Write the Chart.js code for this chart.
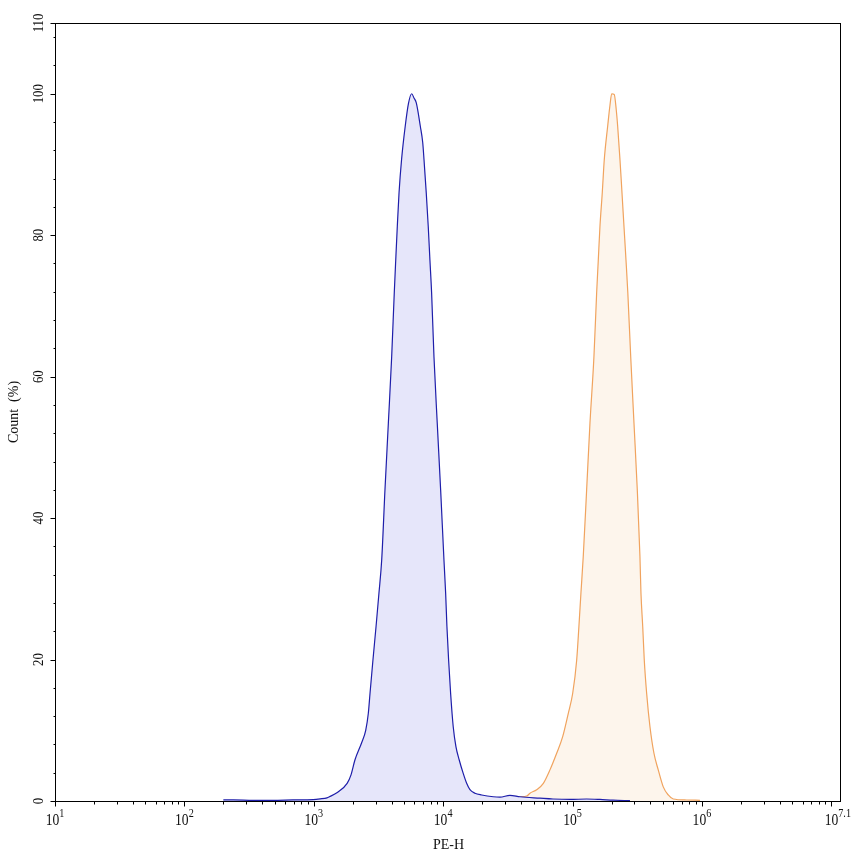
<!DOCTYPE html>
<html>
<head>
<meta charset="utf-8">
<script src="https://cdn.jsdelivr.net/npm/chart.js@4.4.0/dist/chart.umd.min.js"></script>
<style>
  html, body { margin: 0; padding: 0; background: #fff; }
  #wrap { width: 853px; height: 856px; }
</style>
</head>
<body>
<div id="wrap"><canvas id="histo" width="853" height="856"></canvas></div>
<script>
// PE-H intensity (x) and count % (y)
var blueX = [200, 240, 340, 480, 690, 990, 1120, 1265, 1320, 1520, 1810, 1940, 2080, 2340, 2520, 2640, 2720, 2865, 3030, 3190,
    3350, 3550, 3770, 4000, 4190, 4300, 4420, 4560, 4770, 5090, 5390, 5710, 5950, 6200, 6660, 6950, 7110, 7400, 7670, 7900,
    8140, 8490, 9000, 9560, 10140, 10450, 10690, 11020, 11420, 11960, 12550, 13310, 14290, 15190, 16110, 17610, 19840,
    24390, 27480, 32830, 39240, 56000, 70600, 95500, 128500, 162800, 205300, 277800];
var blueY = [0.15, 0.15, 0.1, 0.1, 0.15, 0.2, 0.3, 0.45, 0.6, 1.2, 2.5, 3.7, 5.8, 8.2, 10.0, 12.4, 15.2, 19.9, 24.7, 29.4,
    34.1, 44.0, 53.4, 62.8, 71.9, 76.5, 81.2, 86.0, 90.7, 95.4, 98.6, 100, 99.4, 98.7, 95.4, 93.1, 90.7, 86.0, 81.2, 76.5,
    71.9, 62.8, 53.4, 44.0, 34.1, 29.4, 24.7, 19.9, 15.2, 10.5, 7.7, 5.8, 3.9, 2.5, 1.6, 1.1, 0.85,
    0.6, 0.55, 0.8, 0.6, 0.4, 0.28, 0.22, 0.28, 0.22, 0.12, 0.05];

var orangeX = [23020, 27480, 32830, 39240, 44190, 46880, 52840, 59460, 66900, 75380, 83900, 92700, 100200, 107600, 112000,
    116100, 121000, 128500, 136300, 146300, 153500, 158100, 162800, 169700, 175900, 186800, 194700, 200700, 210000, 217700,
    223200, 232500, 241000, 249800, 258800, 267500, 281500, 298400, 316400, 331700, 337800, 348500, 358400, 373900, 396600,
    425700, 459500, 502400, 549100, 600200, 761700, 966000];
var orangeY = [0.07, 0.2, 0.42, 0.6, 0.7, 1.1, 1.6, 2.5, 4.4, 6.75, 9.1, 12.4, 15.2, 19.9, 24.7,
    29.4, 34.6, 44.0, 53.4, 62.8, 71.8, 76.5, 81.2, 86.0, 90.7, 95.4, 98.4, 100, 99.9, 97.7,
    95.4, 90.7, 86.0, 81.2, 76.5, 71.8, 62.8, 53.4, 44.0, 34.6, 29.4, 24.7, 19.9, 15.2, 10.5,
    6.75, 4.4, 2.0, 0.85, 0.28, 0.14, 0.1];

var xMin = 10;
var xMax = Math.pow(10, 7.067);
var xTickValues = [1e1, 1e2, 1e3, 1e4, 1e5, 1e6, xMax];
var xTickExps = ["1", "2", "3", "4", "5", "6", "7.1"];
var yTickValues = [0, 20, 40, 60, 80, 100, 110];

function toPoints(xs, ys) {
    var pts = [];
    for (var i = 0; i < xs.length; i++) {
        pts.push({ x: xs[i], y: ys[i] });
    }
    return pts;
}

var FONT = '"Liberation Serif", "Times New Roman", serif';

// frame, tick marks and labels (log minors on x, every 4 on y)
var flowAxes = {
    id: 'flowAxes',
    afterDatasetsDraw: function (chart) {
        var ctx = chart.ctx;
        var a = chart.chartArea;
        var sx = chart.scales.x;
        var sy = chart.scales.y;
        ctx.save();
        ctx.strokeStyle = '#000';
        ctx.lineWidth = 1;
        ctx.strokeRect(Math.round(a.left) + 0.5, Math.round(a.top) + 0.5,
            Math.round(a.right - a.left), Math.round(a.bottom - a.top));

        var bottom = Math.round(a.bottom) + 0.5;
        ctx.beginPath();
        for (var k = 1; k <= 7; k++) {
            for (var m = 1; m <= 9; m++) {
                var v = m * Math.pow(10, k);
                if (v > xMax) break;
                var px = Math.round(sx.getPixelForValue(v)) + 0.5;
                ctx.moveTo(px, bottom);
                ctx.lineTo(px, bottom + (m === 1 ? 5 : 3));
            }
        }
        var left = Math.round(a.left) + 0.5;
        for (var t = 0; t <= 110; t += (t >= 108 ? 2 : 4)) {
            var py = Math.round(sy.getPixelForValue(t)) + 0.5;
            var major = yTickValues.indexOf(t) >= 0;
            ctx.moveTo(left, py);
            ctx.lineTo(left - (major ? 5 : 2), py);
        }
        ctx.stroke();

        ctx.fillStyle = '#111';
        // x labels 10^n
        for (var i = 0; i < xTickValues.length; i++) {
            var cx = sx.getPixelForValue(xTickValues[i]);
            ctx.font = '16px ' + FONT;
            var wb = ctx.measureText('10').width * 0.85;
            ctx.font = '12px ' + FONT;
            var we = ctx.measureText(xTickExps[i]).width * 0.85;
            var lx = cx - (wb + we) / 2;
            if (lx + wb + we > 851) lx = 851 - wb - we;
            ctx.save();
            ctx.translate(lx, 825);
            ctx.scale(0.85, 1);
            ctx.textAlign = 'left';
            ctx.textBaseline = 'alphabetic';
            ctx.font = '16px ' + FONT;
            ctx.fillText('10', 0, 0);
            ctx.font = '12px ' + FONT;
            ctx.fillText(xTickExps[i], wb / 0.85, -8);
            ctx.restore();
        }
        // y labels, rotated
        for (var j = 0; j < yTickValues.length; j++) {
            var ly = sy.getPixelForValue(yTickValues[j]);
            ctx.save();
            ctx.translate(43, ly);
            ctx.rotate(-Math.PI / 2);
            ctx.scale(0.85, 1);
            ctx.textAlign = 'center';
            ctx.textBaseline = 'alphabetic';
            ctx.font = '15px ' + FONT;
            ctx.fillText(String(yTickValues[j]), 0, 0);
            ctx.restore();
        }
        // axis titles
        ctx.font = '14px ' + FONT;
        ctx.textAlign = 'center';
        ctx.textBaseline = 'alphabetic';
        ctx.fillText('PE-H', (a.left + a.right) / 2 + 1, 849);
        ctx.save();
        ctx.translate(18, 412);
        ctx.rotate(-Math.PI / 2);
        ctx.fillText('Count  (%)', 0, 0);
        ctx.restore();
        ctx.restore();
    }
};

var ctx = document.getElementById('histo');
var histo = new Chart(ctx, {
    type: 'line',
    data: {
        datasets: [{
            label: 'Sample',
            data: toPoints(blueX, blueY),
            borderColor: '#1e1eaa',
            backgroundColor: '#e6e6fa',
            borderWidth: 1.2,
            fill: 'origin',
            pointRadius: 0,
            cubicInterpolationMode: 'monotone'
        }, {
            label: 'Stained',
            data: toPoints(orangeX, orangeY),
            borderColor: '#f0a35e',
            backgroundColor: '#fdf5ec',
            borderWidth: 1.2,
            fill: 'origin',
            pointRadius: 0,
            cubicInterpolationMode: 'monotone'
        }]
    },
    options: {
        responsive: false,
        animation: false,
        devicePixelRatio: 1,
        layout: { padding: { top: 23, right: 13, left: 0, bottom: 0 } },
        plugins: {
            legend: { display: false },
            tooltip: { enabled: false }
        },
        scales: {
            x: {
                type: 'logarithmic',
                min: xMin,
                max: xMax,
                ticks: { display: false },
                grid: { display: false },
                border: { display: false },
                afterFit: function (scale) { scale.height = 55; }
            },
            y: {
                type: 'linear',
                min: 0,
                max: 110,
                ticks: { display: false },
                grid: { display: false },
                border: { display: false },
                afterFit: function (scale) { scale.width = 55; }
            }
        }
    },
    plugins: [flowAxes]
});
</script>
</body>
</html>
